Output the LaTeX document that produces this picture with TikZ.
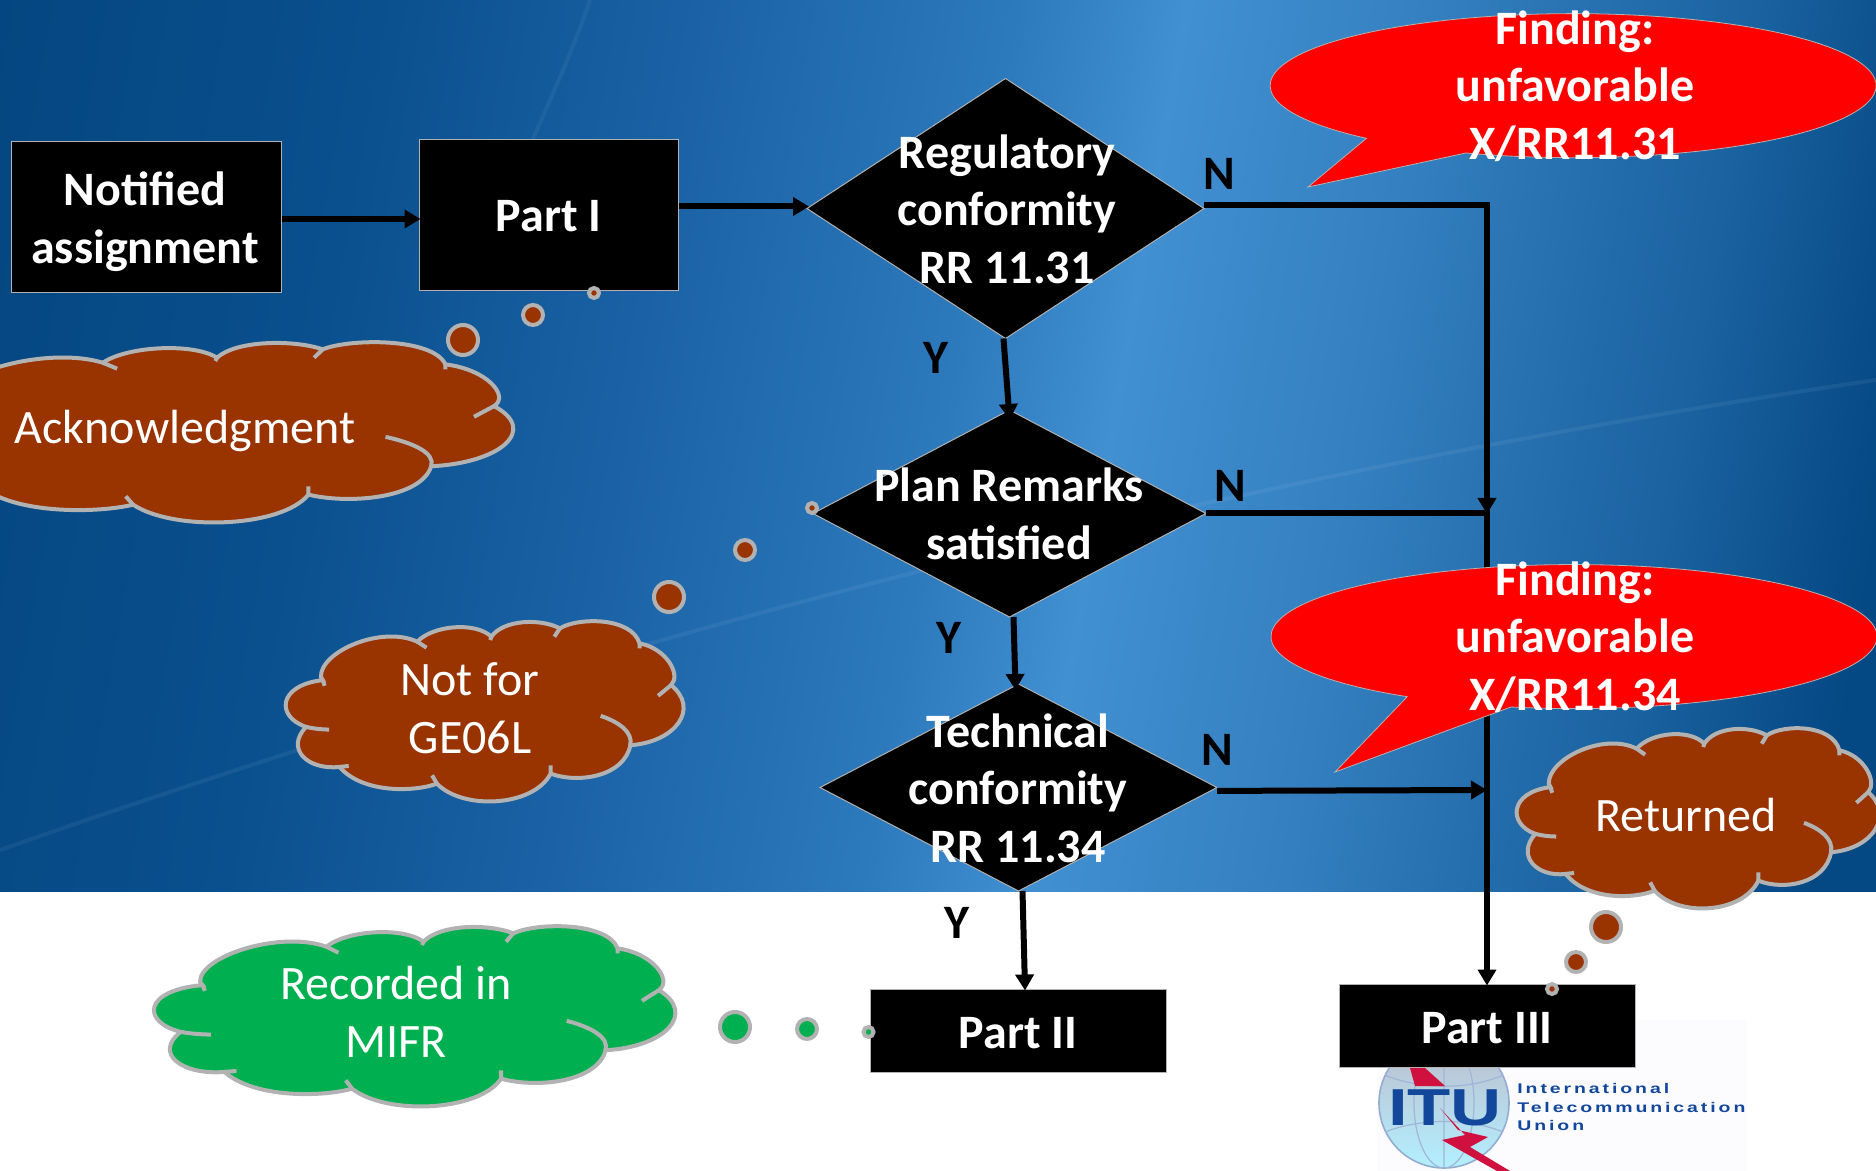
\documentclass[tikz,border=0pt]{standalone}
\usepackage{fontspec}
\setmainfont{Carlito}
\newfontfamily\itufont[LetterSpace=15]{Liberation Sans}
\newfontfamily\itubigfont{Liberation Sans}
\usetikzlibrary{arrows.meta,shapes.geometric}

\definecolor{cloudbrown}{HTML}{993300}
\definecolor{cloudgreen}{HTML}{00B050}
\definecolor{cloudline}{HTML}{B2B2B2}
\definecolor{itublue}{HTML}{12479B}
\definecolor{iturose}{HTML}{D0103F}
\definecolor{bgedge}{HTML}{03457F}
\definecolor{bgone}{HTML}{0A508E}
\definecolor{bgtwo}{HTML}{1A62A5}
\definecolor{bgthree}{HTML}{2C79BC}
\definecolor{bgpeak}{HTML}{4190D2}
\definecolor{bgfour}{HTML}{347FBF}
\definecolor{bgfive}{HTML}{1A62A0}
\definecolor{bgend}{HTML}{044884}

\pgfdeclarehorizontalshading{bgblue}{100bp}{
	color(0bp)=(bgedge);
	color(25bp)=(bgedge);
	color(35bp)=(bgone);
	color(42.5bp)=(bgtwo);
	color(50bp)=(bgthree);
	color(54bp)=(bgpeak);
	color(60bp)=(bgfour);
	color(67.5bp)=(bgfive);
	color(72.5bp)=(bgend);
	color(100bp)=(bgend)
}

\tikzset{
	thoughtcloud/.pic={
		\path[pic actions] (97,170) .. controls (95,95) and (260,15) .. (357,65)
			.. controls (400,15) and (515,5) .. (557,50)
			.. controls (590,-2) and (690,-5) .. (742,25)
			.. controls (790,-8) and (935,-10) .. (957,70)
			.. controls (1030,85) and (1070,165) .. (1042,195)
			.. controls (1120,265) and (1055,365) .. (932,375)
			.. controls (915,470) and (790,490) .. (717,460)
			.. controls (670,560) and (480,570) .. (410,490)
			.. controls (350,515) and (210,520) .. (147,440)
			.. controls (60,450) and (0,385) .. (57,320)
			.. controls (-25,290) and (-20,195) .. (102,180) -- cycle;
		\draw[cloudline, line width=2pt, fill=none] (357,65) -- (382,83)
			(557,50) -- (554,60)
			(742,25) -- (727,50)
			(957,70) -- (957,85)
			(1042,195) -- (1007,227)
			(932,375) .. controls (940,335) and (900,305) .. (852,287)
			(717,460) -- (717,435)
			(410,490) -- (397,465)
			(147,440) -- (172,437)
			(57,320) .. controls (75,325) and (100,328) .. (119,328)
			(102,180) -- (107,197);
	}
}

\begin{document}
\begin{tikzpicture}[
x=0.5pt,
y=-0.5pt,
every node/.style={text=white, align=center, font=\fontsize{24}{28.8}\selectfont},
]
\clip (0,0) rectangle (1876,1171);

\tikzset{
	blackbox/.style={draw=cloudline, line width=.5pt, fill=black, inner sep=0pt},
	decision/.style={diamond, draw=cloudline, line width=.5pt, fill=black, inner sep=0pt, outer sep=0pt},
	boldtext/.style={font=\fontsize{24}{28.8}\selectfont\bfseries},
	yesno/.style={text=black, font=\fontsize{24}{28.8}\selectfont\bfseries},
	flow/.style={line width=3pt, shorten >=-1pt, -{Triangle[length=8pt,width=9pt]}},
	brown cloud/.style={fill=cloudbrown, draw=cloudline, line width=2pt},
	green cloud/.style={fill=cloudgreen, draw=cloudline, line width=2pt},
	bubble/.style={circle, draw=cloudline, line width=2pt, inner sep=0pt},
	callout/.style={fill=red, draw=cloudline, line width=.4pt},
	itutext/.style={text=itublue, anchor=west, inner sep=0pt, font=\itufont\bfseries\fontsize{7}{8}\selectfont},
}

% background
\begin{scope}
\clip (0,0) rectangle (1876,891);
\shade[shading=bgblue, shading angle=-10] (-112,-605) rectangle (1988,1495);
\draw[white, opacity=.06, line width=2pt] (0,850) .. controls (600,640) and (1200,480) .. (1876,380);
\draw[white, opacity=.05, line width=2pt] (590,0) .. controls (570,60) and (540,120) .. (520,170);
\end{scope}

% logo
\fill[white!99!blue] (1377,1020) rectangle (1747,1171);
\shade[top color=white!90!blue!60!gray, bottom color=blue!20!cyan!30!white, draw=itublue!45!white, line width=.8pt] (1444,1103) circle (65);
\draw[itublue!40!white, line width=.6pt] (1444,1103) ellipse (30 and 65) (1444,1038) -- (1444,1168)
	(1385,1075) .. controls (1420,1090) and (1470,1090) .. (1503,1075)
	(1385,1132) .. controls (1420,1118) and (1470,1118) .. (1503,1132);
\fill[iturose] (1410,1068) -- (1425,1068) -- (1445,1086) -- (1415,1086) -- cycle;
\node[inner sep=0pt, text=itublue, font=\itubigfont\bfseries\fontsize{26}{26}\selectfont] (itu) at (1445,1108) {\scalebox{1.36}[1]{ITU}};
\fill[iturose] (1440,1108) -- (1458,1130) -- (1488,1137) -- (1470,1147) -- (1510,1171) -- (1497,1171) -- (1442,1140) -- (1465,1135) -- cycle;
\node[itutext] (ituone) at (1517,1088) {\scalebox{1.39}[1]{International}};
\node[itutext] (itutwo) at (1517,1107.5) {\scalebox{1.39}[1]{Telecommunication}};
\node[itutext] (ituthree) at (1517,1125) {\scalebox{1.39}[1]{Union}};

% boxes
\node[blackbox, minimum width=135pt, minimum height=75.5pt] (notified) at (146,217.5) {};
\node[blackbox, minimum width=129.5pt, minimum height=75.5pt] (partone) at (548.5,215) {};
\node[blackbox, minimum width=148pt, minimum height=41.5pt] (parttwo) at (1018,1030.5) {};
\node[blackbox, minimum width=148pt, minimum height=41.5pt] (partthree) at (1487,1025.5) {};

% conditions
\node[decision, minimum width=198.5pt, minimum height=130pt] (reg) at (1005.5,208.5) {};
\node[decision, minimum width=196.5pt, minimum height=103.5pt] (plan) at (1009.5,513.5) {};
\node[decision, minimum width=198.5pt, minimum height=103.5pt] (tech) at (1018.5,787.5) {};

% flow
\coordinate (joinup) at (1487,512);
\coordinate (joinlow) at (1485,790);
\draw[flow] (notified.east |- 0,219) -- (partone.west |- 0,219);
\draw[flow] ([yshift=1pt]reg.west -| partone.east) -- ([yshift=1pt]reg.west);
\draw[flow] ([xshift=-1pt]reg.south) -- ([yshift=-4pt]plan.north);
\draw[flow] ([xshift=2pt]plan.south) -- ([xshift=-1.5pt,yshift=-2pt]tech.north);
\draw[flow] ([xshift=2pt]tech.south) -- ([xshift=3.5pt]parttwo.north);
\draw[flow] ([yshift=1.5pt]reg.east) -| (joinup);
\draw[flow] (plan.east) -| (partthree.north);
\draw[flow] ([yshift=-1.7pt]tech.east) -- (joinlow);

% findings
\draw[callout] (1466,153) arc[start angle=110.7, end angle=-227, x radius=303, y radius=72] -- (1308,187) -- cycle;
\draw[callout] (1511,707) arc[start angle=102, end angle=-236.6, x radius=303, y radius=72] -- (1335,772) -- cycle;

% clouds
\pic[brown cloud, xscale=.571, yscale=.334] (ackcloud) at (-101,341) {thoughtcloud};
\pic[brown cloud, xscale=.3705, yscale=.334] (geocloud) at (285,620) {thoughtcloud};
\pic[brown cloud, xscale=.338, yscale=.334] (retcloud) at (1516,727) {thoughtcloud};
\pic[green cloud, xscale=.4856, yscale=.334] (mifrcloud) at (153,925) {thoughtcloud};

% bubbles
\node[bubble, fill=cloudbrown, minimum size=15pt] (ackbig) at (463,340) {};
\node[bubble, fill=cloudbrown, minimum size=10pt] (ackmid) at (533,315) {};
\node[bubble, fill=cloudbrown, minimum size=5pt] (acksmall) at (594,293) {};
\node[bubble, fill=cloudbrown, minimum size=15pt] (geobig) at (669,597) {};
\node[bubble, fill=cloudbrown, minimum size=10pt] (geomid) at (745,550) {};
\node[bubble, fill=cloudbrown, minimum size=5pt] (geosmall) at (812,508) {};
\node[bubble, fill=cloudbrown, minimum size=15pt] (retbig) at (1606,927) {};
\node[bubble, fill=cloudbrown, minimum size=10pt] (retmid) at (1576,962) {};
\node[bubble, fill=cloudbrown, minimum size=5pt] (retsmall) at (1552,989) {};
\node[bubble, fill=cloudgreen, minimum size=15pt] (mifrbig) at (735,1027) {};
\node[bubble, fill=cloudgreen, minimum size=10pt] (mifrmid) at (807,1029) {};
\node[bubble, fill=cloudgreen, minimum size=5pt] (mifrsmall) at (868.5,1032) {};

% labels
\node[boldtext] (notifiedtext) at (145,221.5) {Notified\\assignment};
\node[boldtext] (parttext) at (548.5,216) {Part I};
\node[boldtext] (twotext) at (1018,1033) {Part II};
\node[boldtext] (threetext) at (1487,1028) {Part III};
\node[boldtext] (regtext) at (1007,209) {Regulatory\\conformity\\RR 11.31};
\node[boldtext] (plantext) at (1009,514) {Plan Remarks\\satisfied};
\node[boldtext] (techtext) at (1018,788) {Technical\\conformity\\RR 11.34};
\node[boldtext] (findone) at (1575,86) {Finding:\\unfavorable\\X/RR11.31};
\node[boldtext] (findtwo) at (1575,637) {Finding:\\unfavorable\\X/RR11.34};
\node (acktext) at (185,431) {Acknowledgment};
\node (geotext) at (470,708) {Not for\\GE06L};
\node (rettext) at (1686,815) {Returned};
\node (mifrtext) at (396,1012) {Recorded in\\MIFR};
\node[yesno] (nregl) at (1219,174) {N};
\node[yesno] (nplan) at (1230,486) {N};
\node[yesno] (ntech) at (1217,750) {N};
\node[yesno] (yreg) at (936,358) {Y};
\node[yesno] (yplan) at (949,638) {Y};
\node[yesno] (ytech) at (957,923) {Y};

\end{tikzpicture}
\end{document}
